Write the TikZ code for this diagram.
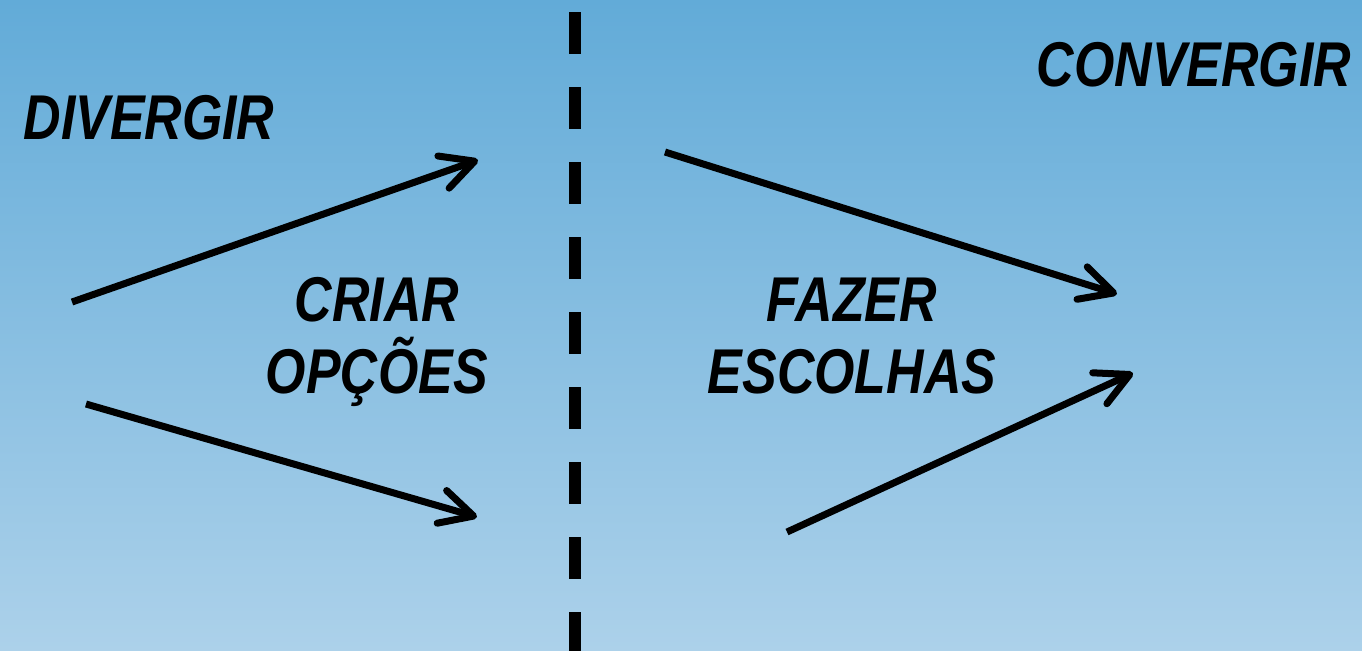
\documentclass[tikz,border=0pt]{standalone}
\usepackage{fontspec}
\setmainfont{Liberation Sans}
\usetikzlibrary{arrows.meta}
\definecolor{skytop}{HTML}{62ABD8}
\definecolor{skybottom}{HTML}{ACD1EA}

\begin{document}
\begin{tikzpicture}[
  x=0.01cm, y=-0.01cm,
  phase/.style={font=\bfseries\itshape\fontsize{18}{20.7}\selectfont,
    xscale=.82, inner sep=0pt, align=center},
  move/.style={line width=0.07cm,
    -{Straight Barb[length=0.33cm,width=0.34cm,round]}},
  divide/.style={line width=0.115cm, dash pattern=on 0.42cm off 0.33cm}
]
\useasboundingbox (0,0) rectangle (1362,650);
\shade[top color=skytop, bottom color=skybottom] (0,0) rectangle (1362,650);

% dividing line
\coordinate (split-top) at (575,12);
\coordinate (split-bottom) at (575,660);
\draw[divide] (split-top) -- (split-bottom);

\node[phase] (diverge) at (149,118) {DIVERGIR};
\node[phase] (converge) at (1194,65) {CONVERGIR};
\node[phase] (create) at (377,342) {CRIAR\\OPÇÕES};
\node[phase] (choose) at (852,336) {FAZER\\ESCOLHAS};

\foreach \arrow/\fx/\fy/\tx/\ty in {
  spread-up/72/302/478/160,
  spread-down/86/404/477/517,
  narrow-down/665/152/1117/294,
  narrow-up/787/532/1133/373
} {
  \coordinate (\arrow-from) at (\fx,\fy);
  \coordinate (\arrow-to) at (\tx,\ty);
  \draw[move] (\arrow-from) -- (\arrow-to);
}
\end{tikzpicture}
\end{document}
